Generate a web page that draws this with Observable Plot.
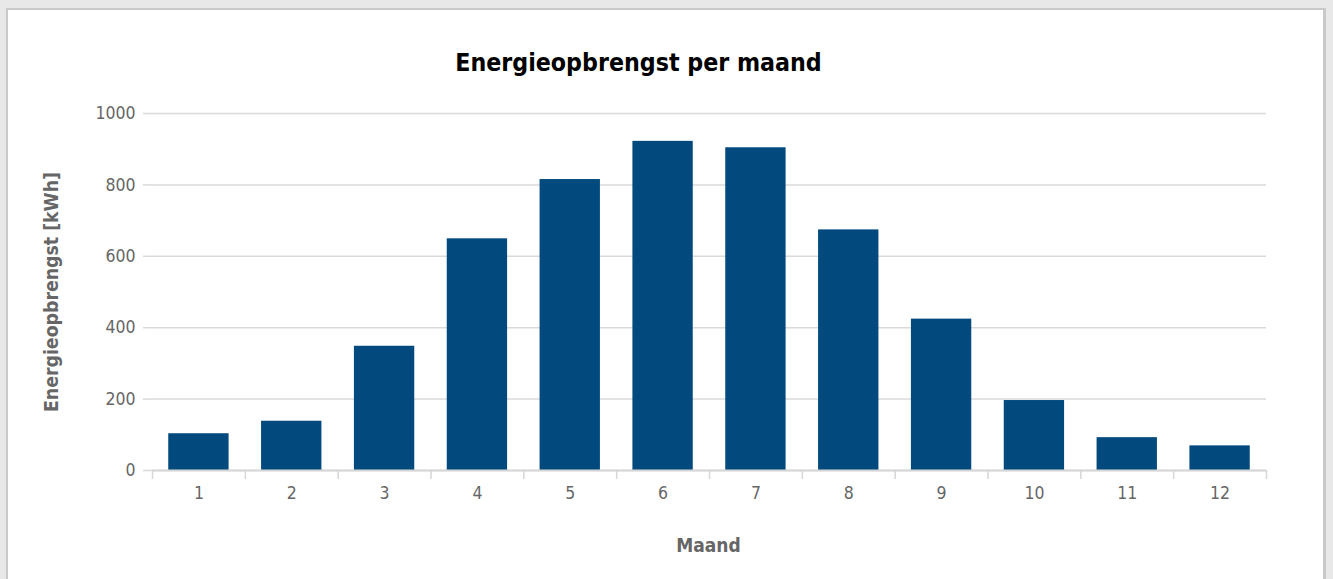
<!DOCTYPE html>
<html>
<head>
<meta charset="utf-8">
<script src="https://cdn.jsdelivr.net/npm/d3@7"></script>
<script src="https://cdn.jsdelivr.net/npm/@observablehq/plot@0.6"></script>
<style>
  html, body { margin: 0; padding: 0; width: 1333px; height: 579px; overflow: hidden; background: #e8e8e8; font-family: "DejaVu Sans Condensed", "DejaVu Sans", sans-serif; }
  #panel { position: absolute; left: 6px; top: 8px; width: 1315px; height: 600px; background: #fff; border: 2px solid #c9c9c9; border-right-width: 3px; }
  #title { position: absolute; left: 0; width: 1277px; top: 48px; text-align: center; font-size: 24.7px; line-height: normal; font-weight: bold; color: #000; white-space: nowrap; }
  #ylabel { position: absolute; left: 51.4px; top: 291.5px; transform: translate(-50%, -50%) rotate(-90deg); white-space: nowrap; font-size: 19.3px; line-height: normal; font-weight: bold; color: #666; }
  #xlabel { position: absolute; left: 0; width: 1417px; top: 534px; text-align: center; font-size: 19px; line-height: normal; font-weight: bold; color: #666; }
  #chart { position: absolute; left: 0; top: 85px; }
</style>
</head>
<body>
<div id="panel"></div>
<div id="title">Energieopbrengst per maand</div>
<div id="chart"></div>
<div id="ylabel">Energieopbrengst [kWh]</div>
<div id="xlabel">Maand</div>
<script>
const months = [1, 2, 3, 4, 5, 6, 7, 8, 9, 10, 11, 12];
const energy = [103, 138, 348, 649, 815, 922, 904, 674, 424, 196, 92, 69];
const yTicks = [0, 200, 400, 600, 800, 1000];

const data = months.map((m, i) => ({month: m, value: energy[i]}));

const W = 1333, H = 494;
const mL = 152, mR = 67, mT = 28, mB = 109;
const step = (W - mL - mR) / months.length;
const font = "'DejaVu Sans Condensed', 'DejaVu Sans', sans-serif";

const chart = Plot.plot({
  width: W,
  height: H,
  marginLeft: mL,
  marginRight: mR,
  marginTop: mT,
  marginBottom: mB,
  style: {fontFamily: font, fontSize: "17.5px", background: "transparent", overflow: "visible"},
  x: {type: "band", domain: months, paddingInner: 0.35, paddingOuter: 0.175, round: false},
  y: {domain: [0, 1000]},
  marks: [
    Plot.gridY(yTicks, {stroke: "#dadada", strokeOpacity: 1, strokeWidth: 1.5}),
    Plot.axisY(yTicks, {tickSize: 9, tickPadding: 8, tickFormat: d3.format("d"), stroke: "#dadada", strokeOpacity: 1, strokeWidth: 1.5, fill: "#666", label: null, fontSize: 17.5}),
    Plot.barY(data, {x: "month", y: "value", fill: "#024a7e"}),
    Plot.ruleY([0], {stroke: "#d6d6d6", strokeWidth: 2}),
    Plot.axisX(months, {tickSize: 9, tickFormat: () => "", dx: -step / 2, stroke: "#d6d6d6", strokeOpacity: 1, strokeWidth: 1.5, label: null}),
    Plot.axisX([12], {tickSize: 9, tickFormat: () => "", dx: step / 2, stroke: "#d6d6d6", strokeOpacity: 1, strokeWidth: 1.5, label: null}),
    Plot.axisX(months, {tickSize: 0, tickPadding: 16, fill: "#666", label: null, fontSize: 17.5})
  ]
});
document.getElementById("chart").appendChild(chart);
</script>
</body>
</html>
